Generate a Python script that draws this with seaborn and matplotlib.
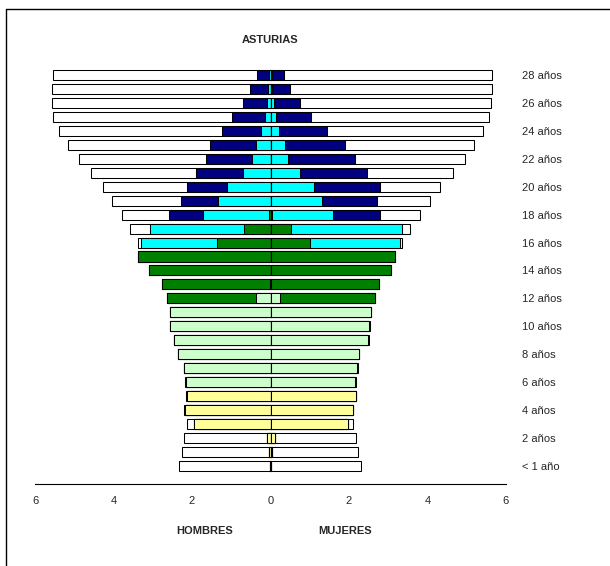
import numpy as np
import pandas as pd
import matplotlib
matplotlib.use("Agg")
import matplotlib.pyplot as plt
import seaborn as sns

# ages 0..28
edades = list(range(29))
etiquetas = ["< 1 año" if e == 0 else (f"{e} años" if e % 2 == 0 else "") for e in edades]

# HOMBRES (miles) por nivel, edad 0..28
h_infantil = [0.02, 0.03, 0.09, 1.96, 2.17, 2.13, 0, 0, 0, 0, 0, 0, 0, 0, 0, 0, 0, 0, 0, 0, 0, 0, 0, 0, 0, 0, 0, 0, 0]
h_primaria = [0, 0, 0, 0, 0, 0, 2.16, 2.20, 2.35, 2.46, 2.55, 2.55, 0.36, 0.02, 0, 0, 0, 0, 0, 0, 0, 0, 0, 0, 0, 0, 0, 0, 0]
h_eso      = [0, 0, 0, 0, 0, 0, 0, 0, 0, 0, 0, 0, 2.27, 2.75, 3.09, 3.38, 1.37, 0.68, 0.04, 0, 0, 0, 0, 0, 0, 0, 0, 0, 0]
h_secund   = [0, 0, 0, 0, 0, 0, 0, 0, 0, 0, 0, 0, 0, 0, 0, 0, 1.92, 2.40, 1.68, 1.35, 1.12, 0.71, 0.46, 0.37, 0.24, 0.14, 0.09, 0.07, 0.05]
h_univ     = [0, 0, 0, 0, 0, 0, 0, 0, 0, 0, 0, 0, 0, 0, 0, 0, 0, 0, 0.86, 0.92, 1.00, 1.20, 1.18, 1.18, 1.00, 0.85, 0.62, 0.44, 0.29]
h_noestud  = [2.32, 2.23, 2.12, 0.17, 0.03, 0.02, 0.02, 0, 0, 0, 0.02, 0, 0, 0, 0, 0, 0.09, 0.50, 1.21, 1.76, 2.16, 2.66, 3.23, 3.61, 4.14, 4.56, 4.86, 5.06, 5.20]

# MUJERES
m_infantil = [0.02, 0.03, 0.11, 1.98, 2.09, 2.18, 0, 0, 0, 0, 0, 0, 0, 0, 0, 0, 0, 0, 0, 0, 0, 0, 0, 0, 0, 0, 0, 0, 0]
m_primaria = [0, 0, 0, 0, 0, 0, 2.16, 2.21, 2.26, 2.48, 2.51, 2.56, 0.25, 0.02, 0, 0, 0, 0, 0, 0, 0, 0, 0, 0, 0, 0, 0, 0, 0]
m_eso      = [0, 0, 0, 0, 0, 0, 0, 0, 0, 0, 0, 0, 2.42, 2.75, 3.07, 3.18, 1.01, 0.51, 0.05, 0, 0, 0, 0, 0, 0, 0, 0, 0, 0]
m_secund   = [0, 0, 0, 0, 0, 0, 0, 0, 0, 0, 0, 0, 0, 0, 0, 0, 2.28, 2.83, 1.55, 1.30, 1.10, 0.75, 0.44, 0.38, 0.21, 0.14, 0.085, 0.05, 0.04]
m_univ     = [0, 0, 0, 0, 0, 0, 0, 0, 0, 0, 0, 0, 0, 0, 0, 0, 0, 0, 1.19, 1.41, 1.68, 1.72, 1.72, 1.51, 1.23, 0.90, 0.665, 0.44, 0.30]
m_noestud  = [2.28, 2.20, 2.07, 0.13, 0, 0, 0.02, 0.02, 0, 0.02, 0.02, 0, 0, 0, 0, 0, 0.06, 0.21, 1.01, 1.35, 1.55, 2.17, 2.79, 3.30, 3.98, 4.53, 4.87, 5.16, 5.30]

niveles = ["Infantil", "Primaria", "ESO", "Secundaria", "Universidad", "No estudia"]
colores = ["#FFFF99", "#CCFFCC", "#008000", "#00FFFF", "#000080", "#FFFFFF"]
hombres = [h_infantil, h_primaria, h_eso, h_secund, h_univ, h_noestud]
mujeres = [m_infantil, m_primaria, m_eso, m_secund, m_univ, m_noestud]

sns.set_style("white")
plt.rcParams['font.family'] = ['Liberation Sans', 'DejaVu Sans']

fig = plt.figure(figsize=(6.1, 5.66), dpi=100)
ax = fig.add_axes([35 / 610, 1 - 484 / 566, 471 / 610, (484 - 66) / 566])

orden = [str(e) for e in edades[::-1]]

# stacked bars: draw cumulative totals from outermost level inwards
for signo, datos in [(-1, hombres), (1, mujeres)]:
    acum = np.cumsum(np.array(datos), axis=0)
    for k in range(len(niveles) - 1, -1, -1):
        df = pd.DataFrame({"edad": [str(e) for e in edades], "valor": signo * acum[k]})
        sns.barplot(data=df, x="valor", y="edad", order=orden, orient="h",
                    color=colores[k], saturation=1, width=0.72,
                    edgecolor="black", linewidth=0.75, ax=ax)

ax.set_xlim(-6, 6)
ax.set_ylim(28 + 1.29, -0.64)
ax.set_xticks([-6, -4, -2, 0, 2, 4, 6])
ax.set_xticklabels(["6", "4", "2", "0", "2", "4", "6"], fontsize=8)
ax.tick_params(axis="x", direction="out", length=4, width=0.8, pad=5)
ax.yaxis.tick_right()
ax.set_yticks(range(29))
ax.set_yticklabels(etiquetas[::-1], fontsize=8)
ax.tick_params(axis="y", length=0, pad=11.5)
ax.set_xlabel("")
ax.set_ylabel("")
for s in ["left", "right", "top"]:
    ax.spines[s].set_visible(False)
ax.spines["bottom"].set_color("black")
ax.spines["bottom"].set_linewidth(0.8)

fig.text(270 / 610, 1 - 40 / 566, "ASTURIAS", ha="center", va="center", fontsize=8, fontweight="bold")
fig.text(205 / 610, 1 - 531 / 566, "HOMBRES", ha="center", va="center", fontsize=8, fontweight="bold")
fig.text(345 / 610, 1 - 531 / 566, "MUJERES", ha="center", va="center", fontsize=8, fontweight="bold")

# chart frame
fig.add_artist(plt.Line2D([6 / 610, 6 / 610], [0, 1 - 9 / 566], color="black", lw=1, transform=fig.transFigure))
fig.add_artist(plt.Line2D([6 / 610, 1], [1 - 9 / 566, 1 - 9 / 566], color="black", lw=1, transform=fig.transFigure))

fig.savefig("out.png", dpi=100)
